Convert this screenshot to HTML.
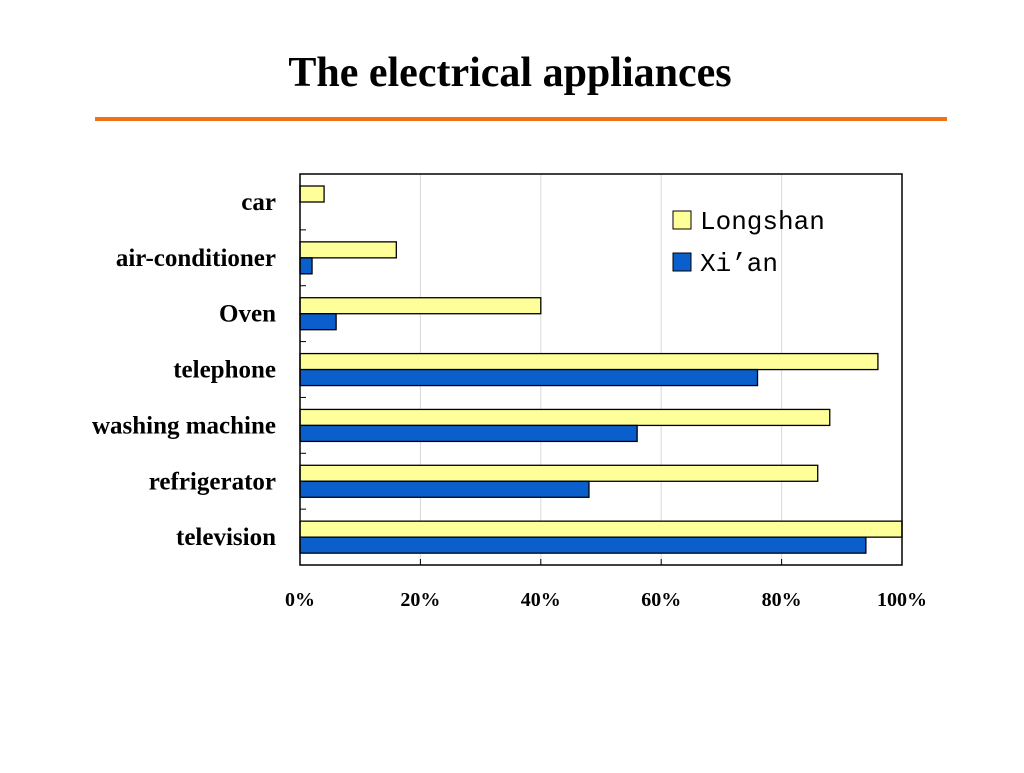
<!DOCTYPE html>
<html><head><meta charset="utf-8"><style>
body{margin:0;background:#fff;width:1024px;height:768px;overflow:hidden}
svg text{font-family:"Liberation Serif",serif}
</style></head><body>
<svg width="1024" height="768">
<text x="510" y="86" text-anchor="middle" font-size="42" font-weight="bold">The electrical appliances</text>
<rect x="95" y="117" width="852" height="4" fill="#f07018"/>
<g id="plot"></g>
<g>
<rect x="673" y="211" width="18" height="18" fill="#ffff99" stroke="#000"/>
<text x="700" y="229" font-size="26" font-family="Liberation Mono,monospace" style="font-family:'Liberation Mono',monospace">Longshan</text>
<rect x="673" y="253" width="18" height="18" fill="#0a5fcc" stroke="#000"/>
<text x="700" y="271" font-size="26" style="font-family:'Liberation Mono',monospace">Xi’an</text>
</g>
</svg>
<script>
const categories=["car","air-conditioner","Oven","telephone","washing machine","refrigerator","television"];
const longshan=[4,16,40,96,88,86,100];
const xian=[0,2,6,76,56,48,94];
const xTicks=[0,20,40,60,80,100];
const L=300,R=902,T=174,B=565;
const x=v=>L+(R-L)*v/100;
const band=(B-T)/categories.length;
const y=i=>T+band*i;
const g=document.getElementById('plot');
const NS='http://www.w3.org/2000/svg';
function mk(t,a){const e=document.createElementNS(NS,t);for(const k in a)e.setAttribute(k,a[k]);g.appendChild(e);return e;}
xTicks.forEach(v=>{
 if(v>0&&v<100){const l=mk('line',{x1:x(v),x2:x(v),y1:T,y2:B,stroke:'#d8d8d8'});
 
 }
 const tk=mk('line',{x1:x(v),x2:x(v),y1:B,y2:B-6,stroke:'#000'});
 
 
 const t=mk('text',{x:x(v),y:606,'text-anchor':'middle','font-size':20,'font-weight':'bold'});
 t.textContent=v+'%';
 
 
});
categories.forEach((c,i)=>{
 const b0=y(i);
 const a=mk('rect',{x:L,y:b0+12,width:x(longshan[i])-L,height:16,fill:'#ffff99',stroke:'#000','stroke-width':1.3});
 
 
 if(xian[i]>0){const b=mk('rect',{x:L,y:b0+28,width:x(xian[i])-L,height:16,fill:'#0a5fcc',stroke:'#000','stroke-width':1.3});
 
 }
 const t=mk('text',{x:276,y:b0+36,'text-anchor':'end','font-size':25,'font-weight':'bold'});
 t.textContent=c;
 
 
 if(i>0){const tk=mk('line',{x1:L,x2:L+6,y1:b0,y2:b0,stroke:'#000'});
 
 }
});
const f=mk('rect',{x:L,y:T,width:R-L,height:B-T,fill:'none',stroke:'#000','stroke-width':1.5});


</script>
</body></html>
